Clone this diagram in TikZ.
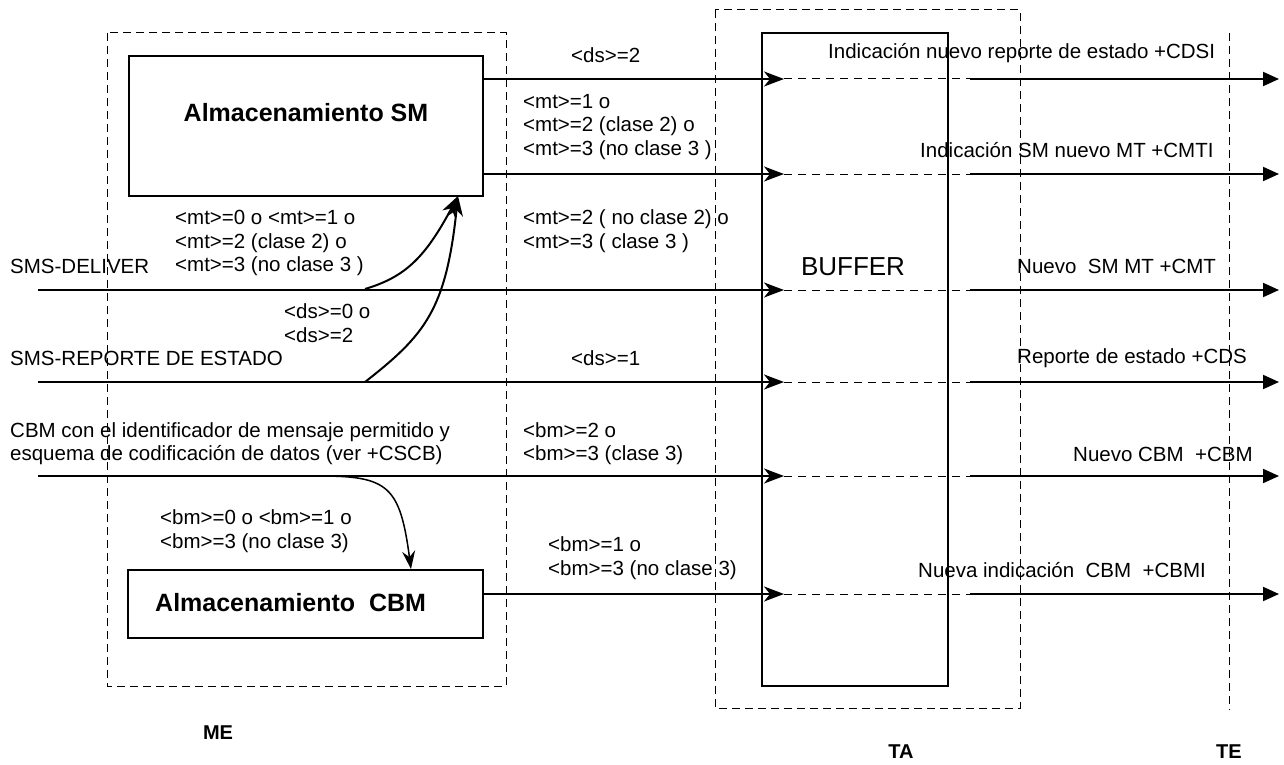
\documentclass[tikz,border=0pt]{standalone}
\usepackage{fontspec}
\setmainfont{Liberation Sans}
\usetikzlibrary{arrows.meta}
\begin{document}
\begin{tikzpicture}[x=1pt,y=-1pt,
  txt/.style={inner sep=0pt,anchor=west,align=left,font=\fontsize{20.5}{23.5}\selectfont},
  boxttl/.style={font=\bfseries\fontsize{25}{28}\selectfont,inner sep=0pt},
  lbl/.style={font=\bfseries\fontsize{20}{23}\selectfont,inner sep=0pt},
  solidbox/.style={draw,line width=2pt,inner sep=0pt},
  dbox/.style={draw,line width=1pt,dash pattern=on 8pt off 5pt},
  main/.style={line width=2pt},
  inarr/.style={main,-{Stealth[length=20pt,width=15pt,inset=6pt]}},
  outarr/.style={main,-{Triangle[length=16pt,width=14pt]}},
  dsh/.style={line width=1pt,dash pattern=on 8pt off 6pt}]
\useasboundingbox (0,0) rectangle (1284,765);
% dashed frames
\draw[dbox] (107,33) rectangle (506,686);
\draw[dbox] (715,10) rectangle (1020,708);
\draw[dbox] (1229,33) -- (1229,710);
% boxes
\node[solidbox,minimum width=354pt,minimum height=140pt] (sm) at (306,126) {};
\node[boxttl] (smt) at (306,113) {Almacenamiento SM};
\node[solidbox,minimum width=355pt,minimum height=68pt] (cbm) at (305.5,603.5) {};
\node[boxttl,anchor=west] (cbmt) at (155,603) {Almacenamiento\ \ CBM};
\node[solidbox,minimum width=186pt,minimum height=653pt] (buf) at (855,359.5) {};
\node[font=\fontsize{26}{29}\selectfont] (buft) at (853,267) {BUFFER};
% coordinates
\foreach \n/\y in {1/79,2/174,3/290,4/382,5/476,6/594}{
  \coordinate (tip\n) at (784,\y);
  \coordinate (de\n) at (970,\y);
  \coordinate (out\n) at (1279,\y);
}
\coordinate (l3) at (38,290);
\coordinate (l4) at (38,382);
\coordinate (l5) at (38,476);
\coordinate (smout1) at (sm.east |- tip1);
\coordinate (smout2) at (sm.east |- tip2);
\coordinate (cbmout) at (cbm.east |- tip6);
% input arrows to buffer
\draw[inarr] (smout1) -- (tip1);
\draw[inarr] (smout2) -- (tip2);
\draw[inarr] (l3) -- (tip3);
\draw[inarr] (l4) -- (tip4);
\draw[inarr] (l5) -- (tip5);
\draw[inarr] (cbmout) -- (tip6);
% dashed through buffer, then output arrows
\foreach \n in {1,...,6}{
  \draw[dsh] (tip\n) -- (de\n);
  \draw[outarr] (de\n) -- (out\n);
}
% curves
\coordinate (c1s) at (365,289);
\coordinate (c2s) at (365,382);
\coordinate (smin) at (458,196);
\coordinate (c3s) at (320,476);
\coordinate (cbmin) at (411,569);
\draw[main,-{Stealth[length=20pt,width=14pt,inset=6pt]}] (c1s) .. controls (405,277) and (425,258) .. (smin);
\draw[main,-{Stealth[length=20pt,width=14pt,inset=6pt]}] (c2s) .. controls (425,335) and (446,310) .. (smin);
\draw[main,line width=1.5pt,-{Stealth[length=18pt,width=13pt,inset=6pt]}] (c3s) .. controls (388,476) and (400,486) .. (cbmin);
% labels
\node[txt] (t1) at (571,55) {<ds>=2};
\node[txt] (t2) at (523,127) {<mt>=1 o\\<mt>=2 (clase 2) o\\<mt>=3 (no clase 3 )};
\node[txt] (t3) at (175,243) {<mt>=0 o <mt>=1 o\\<mt>=2 (clase 2) o\\<mt>=3 (no clase 3 )};
\node[txt] (t4) at (523,231) {<mt>=2 ( no clase 2) o\\<mt>=3 ( clase 3 )};
\node[txt] (t5) at (10,266) {SMS-DELIVER};
\node[txt] (t6) at (284,323) {<ds>=0 o\\<ds>=2};
\node[txt] (t7) at (10,358) {SMS-REPORTE DE ESTADO};
\node[txt] (t8) at (571,358) {<ds>=1};
\node[txt] (t9) at (10,443.5) {CBM con el identificador de mensaje permitido y\\esquema de codificación de datos (ver +CSCB)};
\node[txt] (t10) at (523,443.5) {<bm>=2 o\\<bm>=3 (clase 3)};
\node[txt] (t11) at (160,531) {<bm>=0 o <bm>=1 o\\<bm>=3 (no clase 3)};
\node[txt] (t12) at (548,558) {<bm>=1 o\\<bm>=3 (no clase 3)};
\node[txt] (r1) at (828,53) {Indicación nuevo reporte de estado +CDSI};
\node[txt] (r2) at (920,150) {Indicación SM nuevo MT +CMTI};
\node[txt] (r3) at (1017,266) {Nuevo\ \ SM MT +CMT};
\node[txt] (r4) at (1017,358) {Reporte de estado +CDS};
\node[txt] (r5) at (1073,454) {Nuevo CBM\ \ +CBM};
\node[txt] (r6) at (918,570) {Nueva indicación\ \ CBM\ \ +CBMI};
\node[lbl] (me) at (218,733) {ME};
\node[lbl] (ta) at (901,752) {TA};
\node[lbl] (te) at (1229,752) {TE};
\end{tikzpicture}
\end{document}
